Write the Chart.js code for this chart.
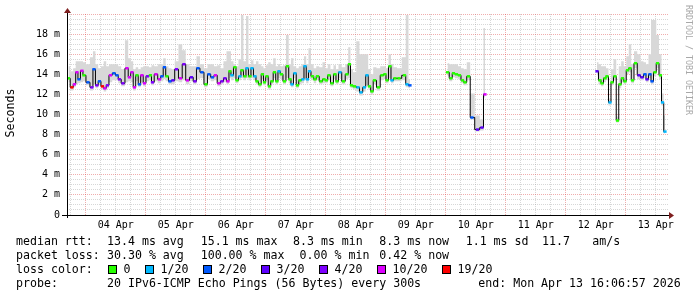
<!DOCTYPE html>
<html>
<head>
<meta charset="utf-8">
<script src="https://cdn.jsdelivr.net/npm/chart.js"></script>
<style>
  html, body { margin: 0; padding: 0; background: #ffffff; }
  canvas { display: block; }
</style>
</head>
<body>
<canvas id="myChart" width="697" height="297"></canvas>
<script>
// hours since 04 Apr 00:00 (null row = no data / gap)
var times = [-6.9,-5.5,-4.5,-3.5,-2.7,-1.5,-0.7,0.9,2.5,3.3,
  4.5,5.5,6.7,7.7,8.7,9.9,11.3,12.5,13.5,14.9,
  16.5,17.5,18.5,19.5,20.5,21.5,22.5,23.5,24.7,25.9,
  26.7,28.1,29.5,30.5,31.5,32.5,33.7,34.9,36.3,37.9,
  39.3,40.7,42.3,43.7,44.9,46.5,48.1,49.3,50.7,51.9,
  53.3,54.5,55.7,56.9,57.7,58.5,59.7,60.5,61.7,62.5,
  63.7,64.5,65.7,66.5,67.7,68.5,69.7,70.7,71.5,72.5,
  73.5,74.5,75.5,76.5,77.3,78.3,79.5,80.7,81.7,82.5,
  83.7,84.7,85.7,86.9,87.7,88.7,89.5,90.7,91.7,92.7,
  94.1,95.3,96.3,97.3,98.5,99.7,100.5,101.7,103.1,104.5,
  105.5,106.3,107.5,108.9,110.1,111.5,112.5,113.5,114.5,115.5,
  117.1,118.5,119.7,120.5,121.7,122.5,123.7,125.3,127.5,128.5,129.7,
  137,
  144.7,146.1,147.1,148.3,149.5,150.7,151.7,153.1,154.5,156.7,158.5,159.7,
  180,
  204.5,205.7,206.5,207.7,208.5,209.7,210.5,211.7,212.7,213.7,
  214.7,215.7,216.7,217.7,218.7,219.9,221.3,222.5,223.7,224.5,
  225.7,226.5,227.7,228.7,229.9,230.7,231.7];

// median rtt (ms)
var median = [13.6,12.7,13.0,14.2,13.5,14.35,13.9,13.2,12.7,14.5,
  12.9,13.3,12.8,12.6,12.9,13.9,14.1,13.9,13.5,13.1,
  14.6,13.7,14.2,12.7,13.9,13.0,13.9,13.1,13.8,13.9,
  13.2,14.0,13.5,13.8,14.7,13.8,13.3,13.4,14.5,13.6,
  15.0,13.4,13.7,13.3,14.6,14.2,13.0,14.0,13.7,13.9,
  13.1,13.3,13.6,13.3,14.3,13.9,14.7,13.4,13.8,14.4,
  13.8,14.6,13.8,14.6,13.8,13.3,13.0,14.0,13.2,13.8,
  12.8,13.3,14.2,13.3,14.3,14.0,13.3,14.8,13.5,13.0,
  14.1,12.9,13.4,13.5,14.8,13.5,14.3,13.8,13.5,13.8,
  13.3,13.5,13.4,13.9,13.1,14.0,13.3,14.2,13.3,14.0,
  15.0,12.9,12.8,12.7,12.2,12.7,13.9,12.8,12.3,13.4,
  12.7,13.9,14.0,13.4,14.8,13.4,13.6,13.6,13.9,13.0,12.9,
  null,
  14.2,13.6,14.1,14.0,13.9,13.4,13.2,13.8,9.7,8.5,8.7,12.0,
  null,
  14.3,13.4,13.1,13.6,13.8,11.2,13.2,13.8,9.4,13.0,
  13.6,13.3,14.4,14.6,13.4,15.1,13.9,13.7,14.0,13.5,
  14.0,13.3,14.2,15.1,13.9,11.2,8.3];

// lost pings out of 20 for each median step
var loss = [0,19,10,10,2,10,0,2,4,2,
  4,2,19,10,4,10,2,2,4,4,
  10,10,10,10,0,2,10,10,4,0,
  4,10,10,2,2,0,2,3,4,10,
  4,10,3,4,2,2,0,2,2,10,
  10,4,4,10,0,1,0,0,1,0,
  0,1,0,1,1,0,0,0,0,0,
  0,0,0,0,1,0,0,0,0,1,
  1,0,0,1,1,1,1,0,0,0,
  0,0,0,0,0,0,0,1,0,0,
  0,0,0,1,1,1,1,0,0,0,
  0,0,0,0,0,1,0,0,0,1,2,
  null,
  0,0,0,0,0,0,0,0,2,3,3,10,
  null,
  3,0,0,0,0,1,0,0,0,0,
  0,0,0,0,0,0,3,3,2,3,
  2,2,0,0,0,1,1];

// smoke: highest and lowest ping per step (ms)
var smokeHi = [14.8,14.3,14.6,15.3,15.3,15.3,15.2,15.0,15.7,16.3,
  15.0,14.6,14.8,15.3,14.8,15.0,15.0,15.0,14.8,14.5,
  17.4,15.6,15.3,14.5,14.7,14.5,14.7,14.8,14.8,14.7,
  14.9,14.8,15.0,15.0,15.6,14.8,14.6,14.5,15.3,17.0,
  16.4,15.0,14.8,14.8,15.8,15.0,14.6,15.0,15.0,14.8,
  14.9,14.6,15.3,16.3,16.3,15.3,15.0,14.8,15.5,19.9,
  15.3,19.8,15.0,15.4,15.0,15.3,15.0,14.8,14.6,14.9,
  15.2,15.0,15.6,14.8,15.0,14.8,14.9,17.9,15.0,15.6,
  14.8,14.6,14.8,15.0,15.8,15.0,16.6,15.0,14.6,14.8,
  14.7,15.2,14.6,15.0,14.5,14.9,14.5,15.0,14.7,15.0,
  16.7,14.5,14.2,17.3,16.0,16.0,16.0,14.5,14.0,14.7,
  14.6,14.8,14.8,14.6,16.0,15.0,14.7,14.6,15.7,19.9,13.5,
  null,
  15.1,15.0,15.0,15.0,14.8,14.6,14.5,15.2,12.1,9.9,9.5,18.6,
  null,
  15.2,15.0,14.8,14.8,14.6,11.6,14.5,15.5,9.8,14.8,
  15.3,14.8,15.8,17.0,15.0,16.3,16.0,15.3,15.2,15.0,
  16.0,19.4,19.4,17.9,16.0,12.1,9.9];

var smokeLo = [13.2,12.4,12.7,13.0,13.1,13.2,13.3,12.9,12.4,13.0,
  12.6,12.9,12.5,12.3,12.6,13.2,13.4,13.4,13.1,12.8,
  13.2,13.3,13.2,12.4,13.3,12.7,13.2,12.8,13.3,13.4,
  12.9,13.3,13.1,13.3,13.5,13.3,13.0,13.0,13.3,13.2,
  13.4,13.0,13.3,13.0,13.5,13.6,12.7,13.5,13.3,13.4,
  12.8,13.0,13.2,13.0,13.6,13.4,13.6,13.1,13.4,13.6,
  13.4,13.6,13.4,13.6,13.4,13.0,12.7,13.5,12.9,13.4,
  12.5,13.0,13.6,13.0,13.6,13.5,13.0,13.6,13.1,12.7,
  13.6,12.6,13.0,13.1,13.6,13.1,13.6,13.4,13.1,13.4,
  13.0,13.1,13.1,13.4,12.8,13.5,13.0,13.6,13.0,13.5,
  13.6,12.6,12.5,12.3,11.9,12.3,12.9,12.5,12.0,13.0,
  12.4,13.4,13.5,13.1,13.6,13.1,13.3,13.3,13.4,12.7,12.6,
  null,
  13.8,13.3,13.7,13.6,13.5,13.1,12.9,13.4,9.5,8.3,8.4,11.7,
  null,
  13.9,13.0,12.8,13.2,13.4,10.9,12.9,13.4,9.2,12.6,
  13.2,13.0,14.0,14.2,13.1,14.6,13.5,13.4,13.6,13.2,
  13.6,13.0,13.8,14.6,13.5,10.9,8.1];

// x labels sit at noon of each day
var dayLabels = ['04 Apr','05 Apr','06 Apr','07 Apr','08 Apr','09 Apr','10 Apr','11 Apr','12 Apr','13 Apr'];

// loss color legend
var lossSteps = [0, 1, 2, 3, 4, 10, 19];
var lossNames = ['0', '1/20', '2/20', '3/20', '4/20', '10/20', '19/20'];
var lossColors = {0: '#26ff00', 1: '#00b8ff', 2: '#0059ff', 3: '#5e00ff', 4: '#7e00ff', 10: '#dd00ff', 19: '#ff0000'};

var MONO = '"DejaVu Sans Mono", monospace';
var MINOR = 'rgba(150,150,150,0.38)';
var MAJOR = 'rgba(220,60,60,0.42)';

function pts(vals) {
  return times.map(function (t, i) { return {x: t, y: vals[i]}; });
}

// axes with arrows, titles and the rrdtool style legend
var decor = {
  id: 'decor',
  afterDraw: function (chart) {
    var c = chart.ctx, a = chart.chartArea;
    c.save();
    c.strokeStyle = '#000';
    c.lineWidth = 1;
    c.beginPath();
    c.moveTo(a.left + 0.5, a.top - 2);
    c.lineTo(a.left + 0.5, a.bottom + 3);
    c.moveTo(a.left - 5, a.bottom + 0.5);
    c.lineTo(a.right + 1, a.bottom + 0.5);
    c.stroke();

    c.fillStyle = '#7f1f1f';
    c.beginPath();
    c.moveTo(a.left + 0.5, a.top - 6);
    c.lineTo(a.left - 3, a.top - 1);
    c.lineTo(a.left + 4, a.top - 1);
    c.fill();
    c.beginPath();
    c.moveTo(a.right + 5, a.bottom + 0.5);
    c.lineTo(a.right, a.bottom - 3);
    c.lineTo(a.right, a.bottom + 4);
    c.fill();

    // y title
    c.fillStyle = '#000';
    c.font = '11.6px ' + MONO;
    c.textAlign = 'center';
    c.textBaseline = 'middle';
    c.translate(11, 113);
    c.rotate(-Math.PI / 2);
    c.fillText('Seconds', 0, 0);
    c.setTransform(1, 0, 0, 1, 0, 0);

    // watermark
    c.fillStyle = '#a8a8a8';
    c.font = '8.3px ' + MONO;
    c.textAlign = 'left';
    c.translate(688, 5);
    c.rotate(Math.PI / 2);
    c.fillText('RRDTOOL / TOBI OETIKER', 0, 0);
    c.setTransform(1, 0, 0, 1, 0, 0);

    // legend rows
    c.fillStyle = '#000';
    c.font = '11.6px ' + MONO;
    c.textBaseline = 'alphabetic';
    var rows = [
      [245, [[16, 'median rtt:'], [107, '13.4 ms avg'], [200.7, '15.1 ms max'], [293, '8.3 ms min'],
             [379.3, '8.3 ms now'], [465.7, '1.1 ms sd'], [542, '11.7'], [592.3, 'am/s']]],
      [259, [[16, 'packet loss:'], [107, '30.30 % avg'], [200.7, '100.00 % max'], [299.6, '0.00 % min'],
             [379.3, '0.42 % now']]],
      [273, [[16, 'loss color:']]],
      [287, [[16, 'probe:'], [107, '20 IPv6-ICMP Echo Pings (56 Bytes) every 300s'],
             [478.3, 'end: Mon Apr 13 16:06:57 2026']]]
    ];
    rows.forEach(function (r) {
      r[1].forEach(function (p) { c.fillText(p[1], p[0], r[0]); });
    });

    var boxX = [108.5, 145.5, 203.5, 261.5, 319.5, 377.5, 442.5];
    lossSteps.forEach(function (s, i) {
      c.fillStyle = lossColors[s];
      c.fillRect(boxX[i], 265.5, 8, 8);
      c.strokeStyle = '#000';
      c.strokeRect(boxX[i], 265.5, 8, 8);
      c.fillStyle = '#000';
      c.fillText(lossNames[i], boxX[i] + 15, 273);
    });
    c.restore();
  }
};

var ctx = document.getElementById('myChart').getContext('2d');
var chart = new Chart(ctx, {
  type: 'line',
  data: {
    datasets: [{
      // smoke lower edge
      data: pts(smokeLo),
      borderWidth: 0,
      pointRadius: 0,
      fill: false,
      stepped: 'middle',
      order: 2
    }, {
      // smoke upper edge, filled down to the lower edge
      data: pts(smokeHi),
      borderWidth: 0,
      pointRadius: 0,
      backgroundColor: '#d8d8d8',
      fill: '-1',
      stepped: 'middle',
      order: 1
    }, {
      label: 'median rtt',
      data: pts(median),
      borderColor: '#000',
      borderWidth: 1,
      stepped: 'middle',
      pointStyle: 'line',
      pointRadius: 1.6,
      pointBorderWidth: 2.5,
      pointBorderColor: loss.map(function (l) { return l === null ? 'rgba(0,0,0,0)' : lossColors[l]; }),
      fill: false,
      order: 0
    }]
  },
  options: {
    responsive: false,
    animation: false,
    events: [],
    spanGaps: false,
    layout: {padding: {left: 0, right: 28, top: 14, bottom: 0}},
    plugins: {legend: {display: false}, tooltip: {enabled: false}},
    scales: {
      x: {
        type: 'linear',
        min: -7.48,
        max: 233.3,
        afterFit: function (s) { s.height = 82; },
        afterBuildTicks: function (s) {
          var t = [];
          for (var v = -6; v <= 233; v += 6) t.push({value: v});
          s.ticks = t;
        },
        grid: {
          drawTicks: false,
          color: function (c) { return c.tick && c.tick.value % 24 === 0 ? MAJOR : MINOR; }
        },
        border: {display: false, dash: [1, 1]},
        ticks: {
          autoSkip: false,
          maxRotation: 0,
          padding: 4,
          color: '#000',
          font: {family: MONO, size: 10},
          callback: function (v) {
            if (v % 24 !== 12) return '';
            return dayLabels[(v - 12) / 24] || '';
          }
        }
      },
      y: {
        min: 0,
        max: 20,
        afterFit: function (s) { s.width = 67; },
        afterBuildTicks: function (s) {
          var t = [];
          for (var v = 0; v <= 20; v += 0.5) t.push({value: v});
          s.ticks = t;
        },
        grid: {
          drawTicks: false,
          color: function (c) { return c.tick && c.tick.value % 2 === 0 ? MAJOR : MINOR; }
        },
        border: {display: false, dash: [1, 1]},
        ticks: {
          autoSkip: false,
          padding: 7,
          color: '#000',
          font: {family: MONO, size: 10},
          callback: function (v) {
            if (v === 0) return '0';
            if (v % 2 === 0 && v < 20) return v + ' m';
            return '';
          }
        }
      }
    }
  },
  plugins: [decor]
});
</script>
</body>
</html>
